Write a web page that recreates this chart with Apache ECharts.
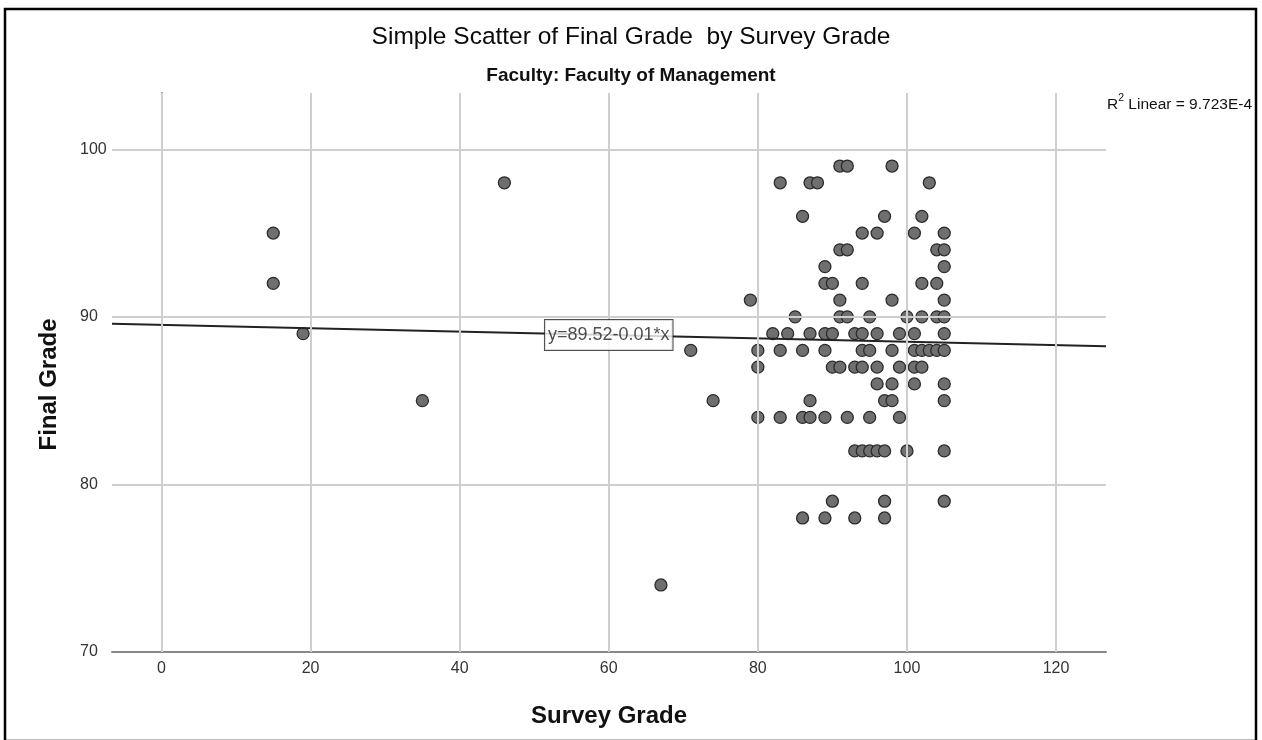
<!DOCTYPE html>
<html>
<head>
<meta charset="utf-8">
<script src="https://cdn.jsdelivr.net/npm/echarts@6/dist/echarts.min.js"></script>
<style>
html,body{margin:0;padding:0;background:#fff;}
#chart{width:1262px;height:740px;}
</style>
</head>
<body>
<div id="chart"></div>
<script>
// ---- data ----
const surveyGrade = [
  91, 92, 98,                                   // final 99
  46, 83, 87, 88, 103,                          // final 98
  86, 97, 102,                                  // final 96
  15, 94, 96, 101, 105,                         // final 95
  91, 92, 104, 105,                             // final 94
  89, 105,                                      // final 93
  15, 89, 90, 94, 102, 104,                     // final 92
  79, 91, 98, 105,                              // final 91
  85, 91, 92, 95, 100, 102, 104, 105,           // final 90
  19, 82, 84, 87, 89, 90, 93, 94, 96, 99, 101, 105,          // final 89
  71, 80, 83, 86, 89, 94, 95, 98, 101, 102, 103, 104, 105,   // final 88
  80, 90, 91, 93, 94, 96, 99, 101, 102,         // final 87
  96, 98, 101, 105,                             // final 86
  35, 74, 87, 97, 98, 105,                      // final 85
  80, 83, 86, 87, 89, 92, 95, 99,               // final 84
  93, 94, 95, 96, 97, 100, 105,                 // final 82
  90, 97, 105,                                  // final 79
  86, 89, 93, 97,                               // final 78
  67                                            // final 74
];
const finalGrade = [
  99, 99, 99,
  98, 98, 98, 98, 98,
  96, 96, 96,
  95, 95, 95, 95, 95,
  94, 94, 94, 94,
  93, 93,
  92, 92, 92, 92, 92, 92,
  91, 91, 91, 91,
  90, 90, 90, 90, 90, 90, 90, 90,
  89, 89, 89, 89, 89, 89, 89, 89, 89, 89, 89, 89,
  88, 88, 88, 88, 88, 88, 88, 88, 88, 88, 88, 88, 88,
  87, 87, 87, 87, 87, 87, 87, 87, 87,
  86, 86, 86, 86,
  85, 85, 85, 85, 85, 85,
  84, 84, 84, 84, 84, 84, 84, 84,
  82, 82, 82, 82, 82, 82, 82,
  79, 79, 79,
  78, 78, 78, 78,
  74
];
const xTicks = [0, 20, 40, 60, 80, 100, 120];
const yTicks = [70, 80, 90, 100];
const regIntercept = 89.52;
const regSlope = -0.01;
const regLabelAtX = 60;
const rSquaredText = '9.723E-4';

// ---- chart ----
const X_MIN = -6.63, X_MAX = 126.7, Y_MIN = 70, Y_MAX = 103.36;
const FONT = '"Liberation Sans", Arial, sans-serif';
const points = surveyGrade.map((x, i) => [x, finalGrade[i]]);
const regLine = [X_MIN, X_MAX].map(x => [x, regIntercept + regSlope * x]);
const labelPoint = [[regLabelAtX, regIntercept + regSlope * regLabelAtX]];
const slopeStr = Math.abs(regSlope).toFixed(2);
const eqText = 'y=' + regIntercept.toFixed(2) + (regSlope < 0 ? '-' : '+') + slopeStr + '*x';

const chart = echarts.init(document.getElementById('chart'), null, {renderer: 'canvas'});
chart.setOption({
  animation: false,
  backgroundColor: '#fff',
  textStyle: {fontFamily: FONT},
  graphic: [{
    type: 'rect',
    shape: {x: 5, y: 9, width: 1251, height: 732},
    style: {fill: 'none', stroke: '#000', lineWidth: 2.5},
    silent: true
  }],
  title: [{
    text: 'Simple Scatter of Final Grade  by Survey Grade',
    left: 'center', top: 25, padding: 0,
    textStyle: {fontFamily: FONT, fontSize: 24.5, fontWeight: 'normal', color: '#0a0a0a'}
  }, {
    text: 'Faculty: Faculty of Management',
    left: 'center', top: 66, padding: 0,
    textStyle: {fontFamily: FONT, fontSize: 19, fontWeight: 'bold', color: '#111'}
  }, {
    text: '{a|R}{s|2}{a| Linear = ' + rSquaredText + '}',
    right: 10, top: 93, padding: 0,
    textStyle: {
      fontFamily: FONT, fontWeight: 'normal',
      rich: {
        a: {fontFamily: FONT, fontSize: 15.5, fontWeight: 'normal', color: '#111', lineHeight: 20, verticalAlign: 'bottom'},
        s: {fontFamily: FONT, fontSize: 10.5, fontWeight: 'normal', color: '#111', lineHeight: 20, verticalAlign: 'top', padding: [0, 0, 9, 0]}
      }
    }
  }],
  grid: {left: 112, right: 156, top: 93, bottom: 88, containLabel: false},
  xAxis: {
    type: 'value', min: X_MIN, max: X_MAX,
    name: 'Survey Grade', nameLocation: 'middle', nameGap: 52,
    nameTextStyle: {fontFamily: FONT, fontSize: 24, fontWeight: 'bold', color: '#111'},
    axisLine: {show: true, lineStyle: {color: '#888', width: 2}},
    axisTick: {show: false},
    splitLine: {show: false},
    axisLabel: {customValues: xTicks, margin: 9, fontFamily: FONT, fontSize: 16, color: '#333'}
  },
  yAxis: {
    type: 'value', min: Y_MIN, max: Y_MAX,
    name: 'Final Grade', nameLocation: 'middle', nameRotate: 90, nameGap: 51,
    nameTextStyle: {fontFamily: FONT, fontSize: 24, fontWeight: 'bold', color: '#111', padding: [0, 24, 0, 0]},
    axisLine: {show: true, lineStyle: {color: '#888', width: 2}},
    axisTick: {show: false},
    splitLine: {show: false},
    axisLabel: {customValues: yTicks, margin: 32, align: 'left', fontFamily: FONT, fontSize: 16, color: '#333'}
  },
  series: [{
    type: 'scatter',
    data: points,
    symbol: 'circle',
    symbolSize: 12,
    itemStyle: {color: '#6f6f6f', borderColor: '#2b2b2b', borderWidth: 1.3, opacity: 1},
    z: 3,
    markLine: {
      silent: true, symbol: 'none', animation: false,
      label: {show: false},
      lineStyle: {color: '#cfcfcf', width: 2, type: 'solid'},
      data: xTicks.map(v => ({xAxis: v})).concat(yTicks.filter(v => v > Y_MIN).map(v => ({yAxis: v})))
    }
  }, {
    type: 'line',
    data: regLine,
    symbol: 'none',
    lineStyle: {color: '#222', width: 2},
    z: 4,
    silent: true
  }, {
    type: 'scatter',
    data: labelPoint,
    symbolSize: 1,
    itemStyle: {color: 'rgba(0,0,0,0)'},
    z: 5,
    silent: true,
    label: {
      show: true, position: 'inside',
      formatter: eqText,
      fontFamily: FONT, fontSize: 18, color: '#222',
      backgroundColor: '#fff', borderColor: '#222', borderWidth: 1,
      padding: [6, 3, 6, 3]
    }
  }]
});
</script>
</body>
</html>
